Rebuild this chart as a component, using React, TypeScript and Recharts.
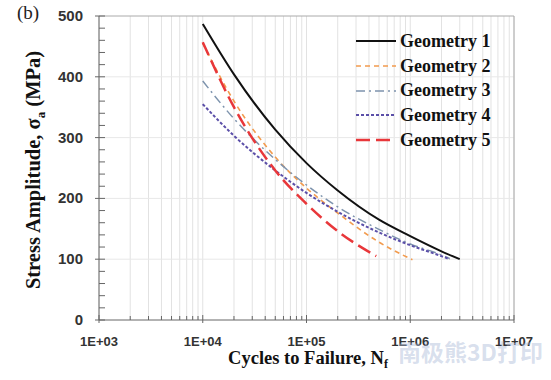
import React from "react";
import {
  LineChart,
  Line,
  XAxis,
  YAxis,
  CartesianGrid,
  ReferenceLine,
  Legend,
  Label,
} from "recharts";

// S-N data (cycles, stress amplitude in MPa)
const CYCLES_G1 = [1e4, 2e4, 5e4, 1e5, 2e5, 5e5, 1e6, 2e6, 3e6];
const STRESS_G1 = [487, 404, 313, 258, 213, 165, 138, 113, 100];

const CYCLES_G2 = [1e4, 2e4, 5e4, 1e5, 2e5, 5e5, 1.05e6];
const STRESS_G2 = [455, 360, 268, 217, 176, 128, 99];

const CYCLES_G3 = [1e4, 2e4, 5e4, 1e5, 2e5, 5e5, 1e6, 2e6, 2.4e6];
const STRESS_G3 = [393, 331, 264, 222, 186, 149, 125, 107, 101];

const CYCLES_G4 = [1e4, 2e4, 5e4, 1e5, 2e5, 5e5, 1e6, 2e6, 2.4e6];
const STRESS_G4 = [355, 303, 246, 209, 178, 144, 123, 105, 100];

const CYCLES_G5 = [1e4, 2e4, 5e4, 1e5, 2e5, 4.7e5];
const STRESS_G5 = [457, 350, 246, 191, 146, 105];

const DECADES = [1e3, 1e4, 1e5, 1e6, 1e7];
const DECADE_LABELS = ["1E+03", "1E+04", "1E+05", "1E+06", "1E+07"];
const MINOR_STEPS = [1, 2, 3, 4, 5, 6, 7, 8, 9];

const Y_TICKS = [0, 20, 40, 60, 80, 100, 120, 140, 160, 180, 200, 220, 240, 260, 280, 300, 320, 340, 360, 380, 400, 420, 440, 460, 480, 500];
const Y_LABELED = [0, 100, 200, 300, 400, 500];

const xTicks = DECADES.slice(0, -1)
  .flatMap((d) => MINOR_STEPS.map((m) => m * d))
  .concat([DECADES[DECADES.length - 1]]);

const toPoints = (xs: number[], ys: number[]) => xs.map((x, i) => ({ x, y: ys[i] }));

const SERIES = [
  { name: "Geometry 1", data: toPoints(CYCLES_G1, STRESS_G1), color: "#111111", width: 2, dash: undefined },
  { name: "Geometry 2", data: toPoints(CYCLES_G2, STRESS_G2), color: "#F29B4E", width: 1.6, dash: "5 4" },
  { name: "Geometry 3", data: toPoints(CYCLES_G3, STRESS_G3), color: "#7D93AD", width: 1.5, dash: "9 4 2 4" },
  { name: "Geometry 4", data: toPoints(CYCLES_G4, STRESS_G4), color: "#5B4FA8", width: 2, dash: "3 2" },
  { name: "Geometry 5", data: toPoints(CYCLES_G5, STRESS_G5), color: "#E8373A", width: 2.5, dash: "14 6" },
];

const AXIS_COLOR = "#666";
const TICK_FONT = "'Liberation Sans', Arial, sans-serif";
const SERIF = "'Liberation Serif', 'Times New Roman', serif";

const XTick = (props: any) => {
  const { x, y, payload } = props;
  const idx = DECADES.indexOf(payload.value);
  const major = idx >= 0;
  return (
    <g>
      <line x1={x} x2={x} y1={major ? y - 5 : y - 4} y2={major ? y + 3 : y} stroke={AXIS_COLOR} />
      {major && (
        <text x={x} y={y + 26} textAnchor="middle" fontFamily={TICK_FONT} fontWeight={700} fontSize={13} fill="#333">
          {DECADE_LABELS[idx]}
        </text>
      )}
    </g>
  );
};

const YTick = (props: any) => {
  const { x, y, payload } = props;
  const major = Y_LABELED.includes(payload.value);
  return (
    <g>
      <line x1={major ? x - 4 : x} x2={x + 6} y1={y} y2={y} stroke={AXIS_COLOR} />
      {major && (
        <text x={x - 16} y={y + 5} textAnchor="end" fontFamily={TICK_FONT} fontWeight={700} fontSize={15} fill="#333">
          {payload.value}
        </text>
      )}
    </g>
  );
};

const LegendBox = () => (
  <div style={{ fontFamily: SERIF, fontWeight: 700, fontSize: 18, color: "#111" }}>
    {SERIES.map((s) => (
      <div key={s.name} style={{ display: "flex", alignItems: "center", height: 24.7 }}>
        <svg width={42} height={10} style={{ marginRight: 2 }}>
          <line x1={0} x2={40} y1={5} y2={5} stroke={s.color} strokeWidth={s.width} strokeDasharray={s.dash} />
        </svg>
        <span>{s.name}</span>
      </div>
    ))}
  </div>
);

const YLabel = () => {
  const cy = 170;
  const cx = 40;
  return (
    <text
      x={cx}
      y={cy}
      transform={`rotate(-90, ${cx}, ${cy})`}
      textAnchor="middle"
      fontFamily={SERIF}
      fontWeight={700}
      fontSize={20.5}
      fill="#111"
    >
      Stress Amplitude, σ<tspan fontSize={13} dy={5}>a</tspan>
      <tspan dy={-5}> (MPa)</tspan>
    </text>
  );
};

const XLabel = () => (
  <text x={308} y={364} textAnchor="middle" fontFamily={SERIF} fontWeight={700} fontSize={18.5} fill="#111">
    Cycles to Failure, N<tspan fontSize={12} dy={4}>f</tspan>
  </text>
);

const App: React.FC = () => {
  return (
    <div style={{ position: "absolute", left: 0, top: 0, width: 551, height: 380, background: "#fff" }}>
      <LineChart width={551} height={380} margin={{ top: 16, right: 37, bottom: 20, left: 39 }}>
        <CartesianGrid stroke="#e2e2e2" horizontal={false} />
        {Y_LABELED.slice(1, -1).map((v) => (
          <ReferenceLine key={v} y={v} stroke="#e8e8e8" />
        ))}
        <XAxis
          dataKey="x"
          type="number"
          scale="log"
          domain={[1e3, 1e7]}
          ticks={xTicks}
          interval={0}
          allowDataOverflow
          height={40}
          stroke={AXIS_COLOR}
          tickLine={false}
          tickSize={0}
          tickMargin={0}
          tick={<XTick />}
        >
          <Label content={<XLabel />} />
        </XAxis>
        <YAxis
          type="number"
          domain={[0, 500]}
          ticks={Y_TICKS}
          interval={0}
          width={60}
          stroke={AXIS_COLOR}
          tickLine={false}
          tickSize={0}
          tickMargin={0}
          tick={<YTick />}
        >
          <Label content={<YLabel />} />
        </YAxis>
        <ReferenceLine y={500} stroke="#aaa" />
        <ReferenceLine x={1e7} stroke="#aaa" />
        {SERIES.map((s) => (
          <Line
            key={s.name}
            data={s.data}
            dataKey="y"
            name={s.name}
            type="monotone"
            stroke={s.color}
            strokeWidth={s.width}
            strokeDasharray={s.dash}
            dot={false}
            activeDot={false}
            isAnimationActive={false}
          />
        ))}
        <Legend
          layout="vertical"
          align="center"
          verticalAlign="middle"
          content={<LegendBox />}
          wrapperStyle={{ top: 29, left: 356, width: 160 }}
        />
      </LineChart>
      <div
        style={{
          position: "absolute",
          left: 17,
          top: 2,
          fontFamily: SERIF,
          fontSize: 19,
          color: "#222",
        }}
      >
        (b)
      </div>
      <div
        style={{
          position: "absolute",
          left: 398,
          top: 336,
          whiteSpace: "nowrap",
          fontFamily: "'Noto Sans CJK SC', sans-serif",
          fontWeight: 700,
          fontSize: 23,
          lineHeight: "30px",
          color: "rgba(170, 185, 215, 0.45)",
        }}
      >
        南极熊3D打印
      </div>
    </div>
  );
};

export default App;
